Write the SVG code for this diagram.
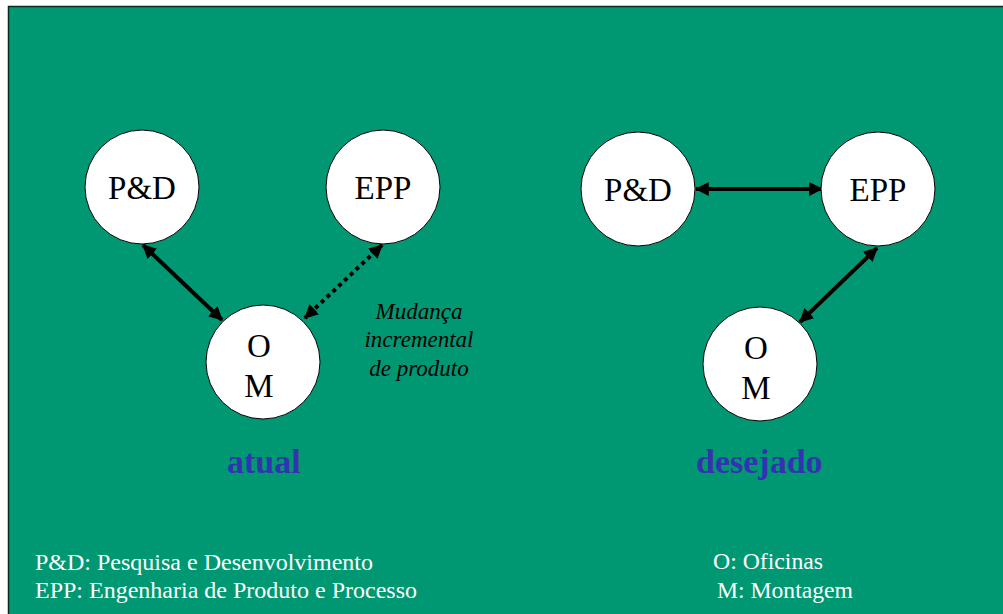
<svg xmlns="http://www.w3.org/2000/svg" width="1003" height="614" viewBox="0 0 1003 614">
<style>
.node circle{fill:#fff;stroke:#000;stroke-width:1}
.lbl{font-family:"Liberation Serif","Times New Roman",serif;font-size:33px;fill:#000;text-anchor:middle}
.conn line{stroke:#000;stroke-width:4}
.dot{stroke-dasharray:4 4}
.note{font-family:"Liberation Serif","Times New Roman",serif;font-size:23px;font-style:italic;fill:#000;text-anchor:middle}
.title{font-family:"Liberation Serif","Times New Roman",serif;font-size:34px;font-weight:bold;fill:#3333b0}
.leg{font-family:"Liberation Serif","Times New Roman",serif;font-size:23px;fill:#fff}
</style>
<defs>
<marker id="ah" viewBox="0 0 12 12" refX="11" refY="6" markerWidth="14" markerHeight="14" markerUnits="userSpaceOnUse" orient="auto-start-reverse">
<path d="M0,0 L12,6 L0,12 Z" fill="#000"/>
</marker>
</defs>
<rect x="8.5" y="6.5" width="1000" height="615" fill="#009872" stroke="#0a2a20" stroke-width="1.5"/>
<g id="connectors" class="conn">
<line x1="143" y1="245" x2="222" y2="320" marker-start="url(#ah)" marker-end="url(#ah)"/>
<line class="dot" x1="382" y1="245" x2="305" y2="318" stroke-width="5" marker-start="url(#ah)" marker-end="url(#ah)"/>
<line x1="696" y1="189" x2="822" y2="189" marker-start="url(#ah)" marker-end="url(#ah)"/>
<line x1="877" y1="248" x2="800" y2="322" marker-start="url(#ah)" marker-end="url(#ah)"/>
</g>
<g id="atual-pd" class="node"><circle cx="142" cy="187" r="57"/><text class="lbl" x="142" y="199">P&amp;D</text></g>
<g id="atual-epp" class="node"><circle cx="383" cy="187" r="57"/><text class="lbl" x="383" y="199">EPP</text></g>
<g id="atual-om" class="node"><circle cx="263" cy="362" r="57"/><text class="lbl" x="259" y="357">O</text><text class="lbl" x="259" y="397">M</text></g>
<g id="desejado-pd" class="node"><circle cx="638" cy="189" r="57"/><text class="lbl" x="638" y="201">P&amp;D</text></g>
<g id="desejado-epp" class="node"><circle cx="878" cy="189" r="57"/><text class="lbl" x="878" y="201">EPP</text></g>
<g id="desejado-om" class="node"><circle cx="760" cy="364" r="57"/><text class="lbl" x="756" y="359">O</text><text class="lbl" x="756" y="399">M</text></g>
<g id="note">
<text class="note" x="419" y="319">Mudança</text>
<text class="note" x="419" y="347">incremental</text>
<text class="note" x="419" y="376">de produto</text>
</g>
<text class="title" x="227" y="473">atual</text>
<text class="title" x="696" y="473">desejado</text>
<g id="legend">
<text class="leg" x="35" y="570" textLength="338" lengthAdjust="spacingAndGlyphs">P&amp;D: Pesquisa e Desenvolvimento</text>
<text class="leg" x="35" y="598" textLength="382" lengthAdjust="spacingAndGlyphs">EPP: Engenharia de Produto e Processo</text>
<text class="leg" x="713" y="569" textLength="110" lengthAdjust="spacingAndGlyphs">O: Oficinas</text>
<text class="leg" x="717" y="598" textLength="136" lengthAdjust="spacingAndGlyphs">M: Montagem</text>
</g>
</svg>
